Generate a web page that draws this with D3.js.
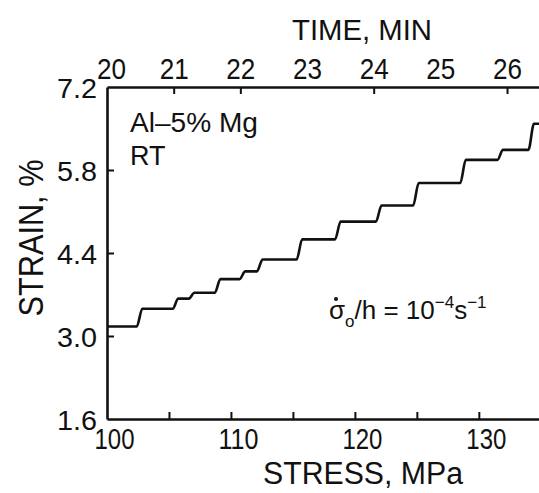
<!DOCTYPE html>
<html>
<head>
<meta charset="utf-8">
<script src="https://cdn.jsdelivr.net/npm/d3@7/dist/d3.min.js"></script>
<style>
  html, body { margin: 0; padding: 0; background: #fff; }
  svg { display: block; }
  text { fill: #111; }
</style>
</head>
<body>
<svg id="chart" width="539" height="493"></svg>
<script>
// ---- data ----
const stressTicks = [100, 105, 110, 115, 120, 125, 130];
const stressLabels = [100, 110, 120, 130];
const strainTicks = [1.6, 3.0, 4.4, 5.8, 7.2];
const timeLabels = [20, 21, 22, 23, 24, 25, 26];
const timeTicksMarked = [21, 22, 24, 26];
// stress (MPa) at which each strain jump begins
const stepStress = [102.4, 105.3, 106.6, 108.7, 110.7, 112.1, 115.3, 118.4, 121.7, 124.7, 128.5, 131.5, 134.0];
// strain (%) on each plateau
const levelStrain = [3.16, 3.46, 3.63, 3.73, 3.96, 4.09, 4.29, 4.63, 4.93, 5.20, 5.58, 5.97, 6.14, 6.58];
const stressDomain = [100, 135];
const strainDomain = [1.6, 7.2];
const timeDomain = [20, 26.5];

// ---- layout ----
const svg = d3.select("#chart");
const mLeft = 107, mRight = 540.8, mTop = 87, mBottom = 419;
const riser = 0.45; // MPa width of each jump
const pxPerMin = 66.67;

const x = d3.scaleLinear().domain(stressDomain).range([mLeft, mRight]);
const y = d3.scaleLinear().domain(strainDomain).range([mBottom, mTop]);
const t = d3.scaleLinear().domain(timeDomain)
  .range([mLeft, mLeft + pxPerMin * (timeDomain[1] - timeDomain[0])]);

const fontReg = "'Liberation Sans', Arial, sans-serif";

// ---- staircase curve ----
const pts = [];
levelStrain.forEach((lv, i) => {
  const xs = i === 0 ? stressDomain[0] : stepStress[i - 1] + riser;
  const xe = i === levelStrain.length - 1 ? stressDomain[1] : stepStress[i];
  pts.push([xs, lv], [xe, lv]);
});
svg.append("defs").append("clipPath").attr("id", "clip")
  .append("rect").attr("x", mLeft).attr("y", mTop).attr("width", 600).attr("height", mBottom - mTop);
svg.append("path")
  .datum(pts)
  .attr("clip-path", "url(#clip)")
  .attr("fill", "none")
  .attr("stroke", "#111")
  .attr("stroke-width", 2.6)
  .attr("d", d3.line().x(d => x(d[0])).y(d => y(d[1])).curve(d3.curveMonotoneX));

// ---- axes ----
function styleAxis(g) {
  g.select(".domain").attr("stroke", "#111").attr("stroke-width", 2.6);
  g.selectAll(".tick line").attr("stroke", "#111").attr("stroke-width", 2);
}

// bottom
const gx = svg.append("g").attr("transform", `translate(0,${mBottom})`)
  .call(d3.axisBottom(x).tickValues(stressTicks).tickSizeInner(-7).tickSizeOuter(0)
    .tickFormat(d => stressLabels.includes(d) ? String(d) : ""));
styleAxis(gx);
gx.selectAll(".tick text")
  .attr("y", 30).attr("dy", 0).attr("x", 7)
  .attr("font-family", fontReg).attr("font-size", 29)
  .attr("textLength", d => stressLabels.includes(d) ? 40 : null)
  .attr("lengthAdjust", "spacingAndGlyphs")
  .attr("fill", "#111");
gx.selectAll(".tick").filter(d => d === 100).select("line").remove();

// left
const gy = svg.append("g").attr("transform", `translate(${mLeft},0)`)
  .call(d3.axisLeft(y).tickValues(strainTicks).tickSizeInner(-7).tickSizeOuter(0)
    .tickFormat(d3.format(".1f")));
styleAxis(gy);
gy.selectAll(".tick text")
  .attr("x", -10).attr("dy", "0.36em")
  .attr("font-family", fontReg).attr("font-size", 28)
  .attr("textLength", 40).attr("lengthAdjust", "spacingAndGlyphs")
  .attr("fill", "#111");
gy.selectAll(".tick").filter(d => d === 7.2 || d === 1.6).select("line").remove();

// top
const gt = svg.append("g").attr("transform", `translate(0,${mTop})`)
  .call(d3.axisTop(t).tickValues(timeLabels).tickSizeInner(-7).tickSizeOuter(0)
    .tickFormat(d3.format("d")));
styleAxis(gt);
gt.selectAll(".tick").filter(d => !timeTicksMarked.includes(d)).select("line").remove();
gt.selectAll(".tick text")
  .attr("y", -8).attr("dy", 0)
  .attr("x", d => d === 20 ? 4 : 0)
  .attr("font-family", fontReg).attr("font-size", 30)
  .attr("textLength", 29).attr("lengthAdjust", "spacingAndGlyphs")
  .attr("fill", "#111");

// ---- titles ----
svg.append("text").attr("x", 363).attr("y", 484).attr("text-anchor", "middle")
  .attr("font-family", fontReg).attr("font-size", 31)
  .attr("textLength", 200).attr("lengthAdjust", "spacingAndGlyphs").text("STRESS, MPa");
svg.append("text").attr("x", 362).attr("y", 40).attr("text-anchor", "middle")
  .attr("font-family", fontReg).attr("font-size", 30)
  .attr("textLength", 140).attr("lengthAdjust", "spacingAndGlyphs").text("TIME, MIN");
svg.append("text").attr("transform", "translate(43,238) rotate(-90)").attr("text-anchor", "middle")
  .attr("font-family", fontReg).attr("font-size", 35)
  .attr("textLength", 157).attr("lengthAdjust", "spacingAndGlyphs").text("STRAIN, %");

// ---- annotations ----
svg.append("text").attr("x", 130).attr("y", 132)
  .attr("font-family", fontReg).attr("font-size", 27)
  .attr("textLength", 128).attr("lengthAdjust", "spacingAndGlyphs").text("Al\u20135% Mg");
svg.append("text").attr("x", 130).attr("y", 165)
  .attr("font-family", fontReg).attr("font-size", 27).text("RT");

const ann = svg.append("text").attr("x", 329).attr("y", 319)
  .attr("font-family", fontReg).attr("font-size", 26);
ann.append("tspan").text("\u03C3");
ann.append("tspan").attr("dy", 8).attr("font-size", 17).text("o");
ann.append("tspan").attr("dy", -8).text("/h = 10");
ann.append("tspan").attr("dy", -11).attr("font-size", 17).text("\u22124");
ann.append("tspan").attr("dy", 11).text("s");
ann.append("tspan").attr("dy", -11).attr("font-size", 17).text("\u22121");
// rate dot over sigma
svg.append("circle").attr("cx", 336).attr("cy", 299).attr("r", 2).attr("fill", "#111");
</script>
</body>
</html>
